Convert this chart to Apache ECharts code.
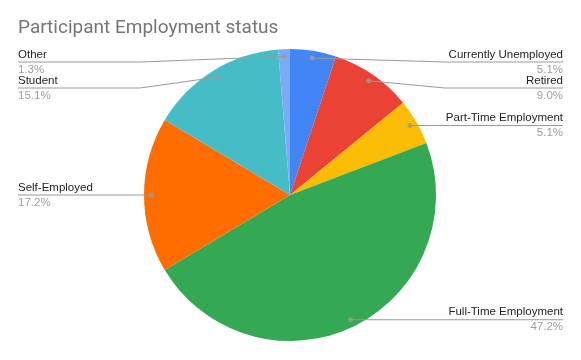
<!DOCTYPE html>
<html>
<head>
<meta charset="utf-8">
<script src="https://cdn.jsdelivr.net/npm/echarts@6/dist/echarts.min.js"></script>
<style>
html,body{margin:0;padding:0;background:#fff;}
#chart{width:581px;height:360px;}
</style>
</head>
<body>
<div id="chart"></div>
<script>
const categories = ['Currently Unemployed', 'Retired', 'Part-Time Employment', 'Full-Time Employment', 'Self-Employed', 'Student', 'Other'];
const values = [5.1, 9.0, 5.1, 47.2, 17.2, 15.1, 1.3];
const colors = ['#4285f4', '#ea4335', '#fbbc04', '#34a853', '#ff6d01', '#46bdc6', '#7baaf7'];

const CX = 290, CY = 195, R = 146;
const LEFT_EDGE = 18, RIGHT_EDGE = 563;
const LEFT_BEND = 140, RIGHT_BEND = 445;
const TOP_MIN = 62, GAP = 26;

const total = values.reduce((a, b) => a + b, 0);
const mids = [];
let acc = 0;
values.forEach(v => { mids.push(acc + v / 2); acc += v; });

const dots = mids.map(m => {
  const a = m / total * 2 * Math.PI;
  return [CX + 0.95 * R * Math.sin(a), CY - 0.95 * R * Math.cos(a)];
});
const sides = dots.map(d => d[0] >= CX ? 'right' : 'left');
const labelY = dots.map(d => d[1]);
['left', 'right'].forEach(side => {
  const idx = dots.map((d, i) => i).filter(i => sides[i] === side).sort((a, b) => dots[a][1] - dots[b][1]);
  let prev = -Infinity;
  idx.forEach(i => {
    const y = Math.max(dots[i][1], TOP_MIN, prev + GAP);
    labelY[i] = y; prev = y;
  });
});

const pieData = categories.map((c, i) => ({name: c, value: values[i]}));

const chart = echarts.init(document.getElementById('chart'), null, {renderer: 'canvas'});
chart.setOption({
  animation: false,
  backgroundColor: '#fff',
  title: {
    text: 'Participant Employment status',
    left: 13, top: 14,
    textStyle: {fontFamily: 'Roboto, Arial, sans-serif', fontSize: 19, fontWeight: 'normal', color: '#757575'}
  },
  polar: {center: [CX, CY], radius: R},
  angleAxis: {type: 'value', min: 0, max: total, startAngle: 90, clockwise: true, show: false},
  radiusAxis: {type: 'value', min: 0, max: 1, show: false},
  series: [
    {
      type: 'pie',
      z: 1,
      center: [CX, CY],
      radius: R,
      startAngle: 90,
      clockwise: true,
      data: pieData.map((d, i) => ({name: d.name, value: d.value, itemStyle: {color: colors[i]}})),
      itemStyle: {borderWidth: 0},
      label: {show: false},
      labelLine: {show: false},
      emphasis: {disabled: true},
      silent: true
    },
    {
      type: 'pie',
      z: 3,
      center: [CX, CY],
      radius: R,
      startAngle: 90,
      clockwise: true,
      avoidLabelOverlap: false,
      data: pieData,
      itemStyle: {color: 'rgba(0,0,0,0)', borderWidth: 0},
      label: {
        show: true,
        position: 'outside',
        formatter: p => '{n|' + p.name + '}\n{p|' + values[p.dataIndex].toFixed(1) + '%}',
        rich: {
          n: {fontFamily: 'Arial, sans-serif', fontSize: 11.5, color: '#222222', lineHeight: 15},
          p: {fontFamily: 'Arial, sans-serif', fontSize: 11.5, color: '#9e9e9e', lineHeight: 15}
        }
      },
      labelLine: {show: true, showAbove: true, lineStyle: {color: '#999999', width: 1}},
      labelLayout: function (params) {
        const i = params.dataIndex;
        const y = labelY[i];
        const d = dots[i];
        if (sides[i] === 'right') {
          return {
            x: RIGHT_EDGE, y: y, align: 'right', verticalAlign: 'middle',
            labelLinePoints: [[d[0], d[1]], [Math.max(RIGHT_BEND, d[0]), y], [RIGHT_EDGE, y]]
          };
        }
        return {
          x: LEFT_EDGE, y: y, align: 'left', verticalAlign: 'middle',
          labelLinePoints: [[d[0], d[1]], [Math.min(LEFT_BEND, d[0]), y], [LEFT_EDGE, y]]
        };
      },
      emphasis: {disabled: true},
      silent: true
    },
    {
      type: 'scatter',
      coordinateSystem: 'polar',
      symbol: 'circle',
      symbolSize: 5,
      itemStyle: {color: '#9a9a9a'},
      z: 20,
      silent: true,
      data: mids.map(m => [0.95, m])
    }
  ]
});
</script>
</body>
</html>
